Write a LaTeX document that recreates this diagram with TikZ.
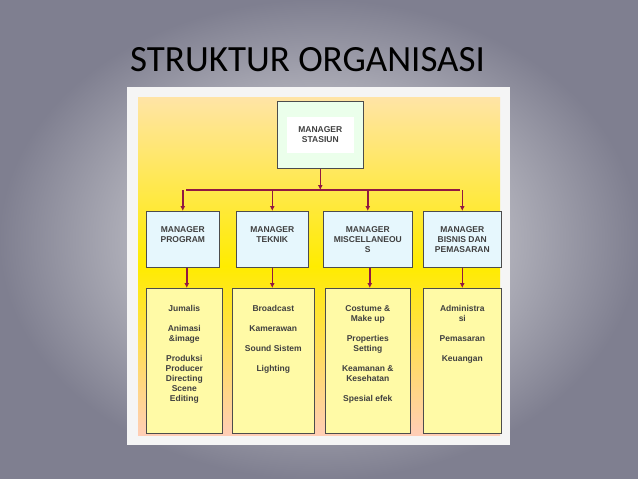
\documentclass[tikz,border=0pt]{standalone}
\usepackage{fontspec}
\setmainfont{Liberation Sans}
\newfontfamily\titlefont{Carlito}
\usetikzlibrary{arrows.meta}
\begin{document}
\begin{tikzpicture}[x=1pt,y=-1pt,
  lvl/.style={draw=black!70,line width=0.6pt,font=\bfseries\fontsize{8.5}{10}\selectfont,text=black!75,align=center},
  mgr/.style={lvl,fill=cyan!10,anchor=north west,inner sep=0pt},
  job/.style={lvl,fill=yellow!35,anchor=north west,inner sep=0pt},
  conn/.style={draw=purple!70!black!90,line width=1.6pt},
  arr/.style={conn,-{Latex[length=5pt,width=5pt]}}]
\useasboundingbox (0,0) rectangle (638,479);
\shade[inner color=gray!10,outer color=gray!60!blue!30!black!55] (0,0) rectangle (638,479);
\node[font=\titlefont\fontsize{37}{40}\selectfont,anchor=west,text=black,inner sep=0pt] (title) at (130,60) {STRUKTUR ORGANISASI};
\fill[gray!8] (127,87) rectangle (510,445);
\shade[top color=yellow!40!orange!35,bottom color=orange!30!pink!60,middle color=yellow!85!orange] (138,97) rectangle (500,435);
% top
\node[lvl,fill=green!8,minimum width=86,minimum height=67,anchor=north west,inner sep=0pt] (top) at (277,101) {};
\node[fill=white,minimum width=62,minimum height=36,lvl,draw=none,text width=60] (toplbl) at (top.center) {MANAGER\\STASIUN};
% row 2
\node[mgr,minimum width=73,minimum height=56] (m1) at (146,211) {};
\node[mgr,minimum width=72,minimum height=56] (m2) at (236,211) {};
\node[mgr,minimum width=89,minimum height=56] (m3) at (323,211) {};
\node[mgr,minimum width=78,minimum height=56] (m4) at (423,211) {};
\node[lvl,draw=none,anchor=north] (t1) at (m1.north) [yshift=-12] {MANAGER\\PROGRAM};
\node[lvl,draw=none,anchor=north] (t2) at (m2.north) [yshift=-12] {MANAGER\\TEKNIK};
\node[lvl,draw=none,anchor=north] (t3) at (m3.north) [yshift=-12] {MANAGER\\MISCELLANEOU\\S};
\node[lvl,draw=none,anchor=north] (t4) at (m4.north) [yshift=-12] {MANAGER\\BISNIS DAN\\PEMASARAN};
% row 3
\node[job,minimum width=76,minimum height=145] (j1) at (146,288) {};
\node[job,minimum width=82,minimum height=145] (j2) at (232,288) {};
\node[job,minimum width=85,minimum height=145] (j3) at (325,288) {};
\node[job,minimum width=78,minimum height=145] (j4) at (423,288) {};
\node[lvl,draw=none,anchor=north] (u1) at (j1.north) [yshift=-14] {Jumalis\\[10pt]Animasi\\\&image\\[10pt]Produksi\\Producer\\Directing\\Scene\\Editing};
\node[lvl,draw=none,anchor=north] (u2) at (j2.north) [yshift=-14] {Broadcast\\[10pt]Kamerawan\\[10pt]Sound Sistem\\[10pt]Lighting};
\node[lvl,draw=none,anchor=north] (u3) at (j3.north) [yshift=-14] {Costume \&\\Make up\\[10pt]Properties\\Setting\\[10pt]Keamanan \&\\Kesehatan\\[10pt]Spesial efek};
\node[lvl,draw=none,anchor=north] (u4) at (j4.north) [yshift=-14] {Administra\\si\\[10pt]Pemasaran\\[10pt]Keuangan};
% connectors
\coordinate (bl) at (186,190);
\coordinate (br) at (460,190);
\draw[conn] (bl) -- (br);
\draw[arr] (top.south) -- (top.south |- bl);
\draw[arr] (m1.north |- bl) -- (m1.north);
\draw[arr] (m2.north |- bl) -- (m2.north);
\draw[arr] (m3.north |- bl) -- (m3.north);
\draw[arr] (m4.north |- bl) -- (m4.north);
\draw[arr] ([xshift=4]m1.south) -- ([xshift=4]m1.south |- j1.north);
\draw[arr] (m2.south) -- (m2.south |- j2.north);
\draw[arr] ([xshift=2]m3.south) -- ([xshift=2]m3.south |- j3.north);
\draw[arr] (m4.south) -- (m4.south |- j4.north);
\end{tikzpicture}
\end{document}
